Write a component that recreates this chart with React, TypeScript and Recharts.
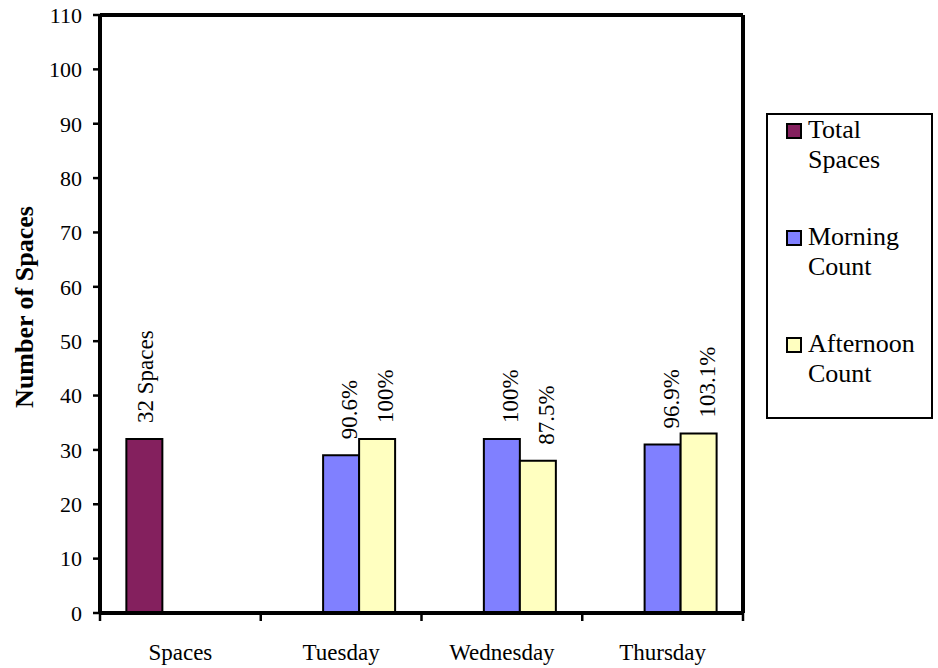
import { BarChart, Bar, XAxis, YAxis, LabelList } from "recharts";

const days = ["Spaces", "Tuesday", "Wednesday", "Thursday"];
const totalSpaces = [32, null, null, null];
const morningCount = [null, 29, 32, 31];
const afternoonCount = [null, 32, 28, 33];
const yTicks = [0, 10, 20, 30, 40, 50, 60, 70, 80, 90, 100, 110];
const seriesNames = ["Total Spaces", "Morning Count", "Afternoon Count"];

const COLORS = ["#84205E", "#8080FF", "#FFFFC0"];
const FONT = "'Liberation Serif', 'Times New Roman', Times, serif";

// occupancy is measured against the lot capacity
const CAPACITY = totalSpaces[0] as number;

const pct = (v: number | null) =>
  v == null ? null : `${Number(((v / CAPACITY) * 100).toFixed(1))}%`;

const data = days.map((day, i) => ({
  day,
  total: totalSpaces[i],
  morning: morningCount[i],
  afternoon: afternoonCount[i],
  totalLabel: totalSpaces[i] == null ? null : `${totalSpaces[i]} Spaces`,
  morningLabel: pct(morningCount[i]),
  afternoonLabel: pct(afternoonCount[i]),
}));

const TICK_GAP = 31;
const FRAME = { stroke: "#000", strokeWidth: 4 };

// vertical label sitting just above the bar
const rotatedLabel = (shift: number) => (props: any) => {
  const { value } = props;
  if (value == null || value === "") return null;
  const vb = props.viewBox ?? props;
  const x = Number(vb.x ?? props.x);
  const y = Number(vb.y ?? props.y);
  const w = Number(vb.width ?? props.width);
  const cx = x + w / 2 + shift;
  const top = y - 16;
  return (
    <text
      transform={`translate(${cx},${top}) rotate(-90)`}
      fontSize={23}
      fill="#000"
      fontFamily={FONT}
    >
      {value}
    </text>
  );
};

// category label plus tick marks on the category boundaries
const DayTick = (props: any) => {
  const { x, y, payload, visibleTicksCount } = props;
  const half = Number(payload?.offset ?? 0);
  const axisY = y - TICK_GAP;
  const last = payload?.index === (visibleTicksCount ?? 4) - 1;
  return (
    <g>
      <line x1={x - half} x2={x - half} y1={axisY} y2={axisY + 8} stroke="#000" strokeWidth={2.5} />
      {last && (
        <line x1={x + half} x2={x + half} y1={axisY} y2={axisY + 8} stroke="#000" strokeWidth={2.5} />
      )}
      <text x={x} y={y} dy="0.71em" textAnchor="middle" fontSize={23} fill="#000" fontFamily={FONT}>
        {payload.value}
      </text>
    </g>
  );
};

const AxisTitle = (props: any) => {
  const vb = props.viewBox;
  const right = vb.x + vb.width;
  const cy = vb.y + vb.height / 2 - 7;
  return (
    <text
      transform={`translate(${right - 67},${cy}) rotate(-90)`}
      textAnchor="middle"
      fontSize={26}
      fontWeight="bold"
      fill="#000"
      fontFamily={FONT}
    >
      Number of Spaces
    </text>
  );
};

function LegendBox() {
  return (
    <div
      style={{
        position: "absolute",
        left: 766,
        top: 113,
        width: 167,
        height: 306,
        boxSizing: "border-box",
        border: "2px solid #000",
        background: "#fff",
        fontFamily: FONT,
        fontSize: 26,
        lineHeight: "30px",
        color: "#000",
      }}
    >
      {seriesNames.map((name, i) => (
        <div key={name} style={{ display: "flex", marginBottom: 47 }}>
          <div
            style={{
              width: 16,
              height: 16,
              boxSizing: "border-box",
              border: "2px solid #000",
              background: COLORS[i],
              marginTop: 8,
              marginLeft: 18,
              marginRight: 6,
              flexShrink: 0,
            }}
          />
          <div style={{ width: 118 }}>{name}</div>
        </div>
      ))}
    </div>
  );
}

export default function App() {
  return (
    <div
      style={{
        position: "absolute",
        left: 0,
        top: 0,
        width: 938,
        height: 668,
        background: "#fff",
        fontFamily: FONT,
      }}
    >
      <BarChart
        width={938}
        height={668}
        data={data}
        margin={{ top: 0, right: 185, bottom: 0, left: 0 }}
        barCategoryGap="16.4%"
        barGap={0}
      >
        <XAxis
          dataKey="day"
          height={55}
          tickLine={false}
          tickSize={0}
          tickMargin={TICK_GAP}
          axisLine={FRAME}
          tick={<DayTick />}
          interval={0}
        />
        <XAxis
          xAxisId="top"
          orientation="top"
          dataKey="day"
          height={15}
          tick={false}
          tickLine={false}
          axisLine={FRAME}
        />
        <YAxis
          domain={[0, 110]}
          ticks={yTicks}
          width={100}
          interval={0}
          tickSize={7}
          tickMargin={11}
          tickLine={{ stroke: "#000", strokeWidth: 2.5 }}
          axisLine={FRAME}
          tick={{ fontSize: 22, fill: "#000" }}
          label={{ content: <AxisTitle /> }}
        />
        <YAxis
          yAxisId="right"
          orientation="right"
          domain={[0, 110]}
          width={10}
          tick={false}
          tickLine={false}
          axisLine={FRAME}
        />
        <Bar
          dataKey="total"
          name={seriesNames[0]}
          fill={COLORS[0]}
          stroke="#000"
          strokeWidth={2}
          isAnimationActive={false}
        >
          <LabelList dataKey="totalLabel" content={rotatedLabel(9)} />
        </Bar>
        <Bar
          dataKey="morning"
          name={seriesNames[1]}
          fill={COLORS[1]}
          stroke="#000"
          strokeWidth={2}
          isAnimationActive={false}
        >
          <LabelList dataKey="morningLabel" content={rotatedLabel(16)} />
        </Bar>
        <Bar
          dataKey="afternoon"
          name={seriesNames[2]}
          fill={COLORS[2]}
          stroke="#000"
          strokeWidth={2}
          isAnimationActive={false}
        >
          <LabelList dataKey="afternoonLabel" content={rotatedLabel(16)} />
        </Bar>
      </BarChart>
      <LegendBox />
    </div>
  );
}
